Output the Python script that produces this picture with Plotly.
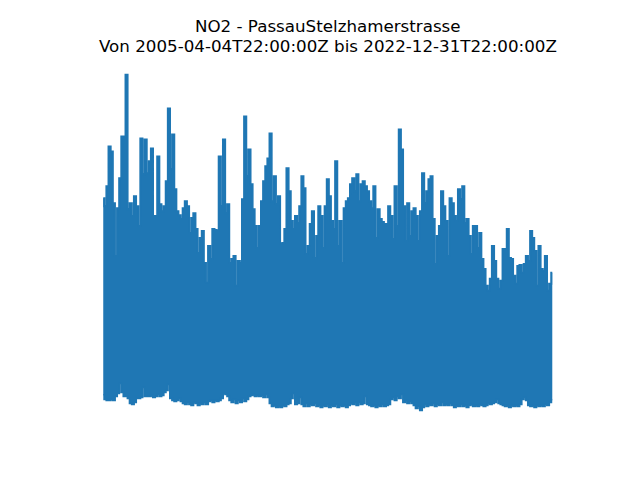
import pandas as pd
import plotly.graph_objects as go

station = "PassauStelzhamerstrasse"
pollutant = "NO2"
t_start = "2005-04-04T22:00:00Z"
t_end = "2022-12-31T22:00:00Z"

# monthly maximum of the hourly series (Apr 2005 .. Dec 2022)
monthly_max = [
    213, 205, 225, 265, 260, 208, 155, 203, 233, 275, 275, 337, 202, 208, 195, 215, 205, 185, 273, 237,
    272, 238, 250, 263, 195, 195, 255, 207, 200, 205, 230, 303, 242, 277, 222, 200, 196, 192, 203, 210,
    205, 178, 193, 198, 182, 158, 173, 180, 148, 128, 165, 152, 182, 181, 180, 255, 205, 272, 198, 207,
    148, 152, 155, 125, 150, 148, 212, 295, 235, 262, 227, 202, 185, 163, 185, 210, 230, 245, 253, 278,
    210, 235, 207, 215, 167, 168, 182, 243, 220, 190, 182, 195, 188, 205, 235, 223, 157, 165, 187, 200,
    153, 175, 205, 195, 163, 205, 232, 215, 190, 182, 250, 165, 190, 148, 203, 210, 213, 227, 233, 220,
    237, 210, 227, 230, 225, 220, 210, 203, 225, 173, 202, 192, 189, 187, 187, 205, 195, 172, 225, 185,
    282, 262, 205, 170, 208, 175, 200, 203, 195, 170, 200, 238, 208, 220, 232, 235, 192, 147, 175, 185,
    220, 205, 190, 155, 213, 208, 195, 190, 222, 212, 225, 188, 192, 175, 157, 185, 185, 163, 178, 152,
    142, 125, 120, 132, 165, 150, 132, 122, 130, 162, 162, 182, 153, 152, 135, 127, 145, 146, 138, 147,
    155, 150, 180, 173, 160, 125, 165, 142, 140, 155, 120, 127, 138,
]

# monthly minimum of the hourly series
monthly_min = [
    15, 11, 10, 10, 11, 10, 14, 17, 27, 18, 14, 14, 12, 7, 6, 8, 12, 12, 13, 23,
    14, 14, 14, 15, 13, 14, 16, 14, 15, 18, 20, 26, 12, 10, 9, 10, 12, 9, 7, 6,
    8, 6, 5, 8, 7, 5, 7, 6, 8, 6, 9, 10, 8, 10, 9, 10, 12, 17, 16, 14,
    10, 8, 11, 7, 10, 8, 12, 9, 11, 14, 15, 16, 14, 15, 14, 15, 13, 16, 13, 7,
    4, 5, 3, 4, 3, 5, 4, 6, 7, 12, 17, 6, 7, 13, 6, 4, 7, 4, 6, 5,
    7, 4, 5, 3, 5, 4, 6, 3, 5, 4, 6, 3, 5, 4, 5, 3, 5, 7, 6, 8,
    5, 8, 6, 7, 14, 6, 5, 4, 5, 3, 5, 4, 6, 4, 5, 6, 11, 13, 10, 14,
    12, 16, 8, 10, 7, 9, 7, 5, 2, 4, 0, 3, 6, 4, 6, 5, 7, 4, 6, 5,
    8, 5, 6, 5, 7, 5, 3, 5, 4, 6, 4, 5, 3, 5, 6, 4, 5, 4, 6, 5,
    4, 5, 7, 6, 7, 8, 11, 7, 6, 5, 4, 5, 3, 5, 4, 5, 4, 6, 11, 13,
    10, 5, 4, 5, 3, 5, 4, 5, 4, 6, 5, 8, 10,
]

months = pd.date_range("2005-04-01", periods=len(monthly_max), freq="MS") + pd.Timedelta(days=14)

color = "#1f77b4"
fig = go.Figure()
fig.add_trace(go.Scatter(x=months, y=monthly_min, mode="lines",
                         line=dict(color=color, width=2, shape="hvh"), hoverinfo="skip"))
fig.add_trace(go.Scatter(x=months, y=monthly_max, mode="lines", fill="tonexty",
                         fillcolor=color, line=dict(color=color, width=2, shape="hvh")))

t0 = pd.Timestamp(t_start).tz_localize(None)
t1 = pd.Timestamp(t_end).tz_localize(None)
pad_t = (t1 - t0) * 0.05
ymin, ymax = min(monthly_min), max(monthly_max)
pad_y = (ymax - ymin) * 0.05

fig.update_layout(
    width=640, height=480,
    margin=dict(l=80, r=64, t=57.6, b=52.8),
    paper_bgcolor="white", plot_bgcolor="white",
    showlegend=False,
    xaxis=dict(visible=False, range=[t0 - pad_t, t1 + pad_t]),
    yaxis=dict(visible=False, range=[ymin - pad_y, ymax + pad_y]),
    font=dict(family="DejaVu Sans", color="black"),
)
fig.add_annotation(text=f"{pollutant} - {station}", xref="paper", yref="paper",
                   x=0.5, y=1, xanchor="center", yanchor="bottom", yshift=19.5,
                   showarrow=False, font=dict(size=16.7, family="DejaVu Sans", color="black"))
fig.add_annotation(text=f"Von {t_start} bis {t_end}", xref="paper", yref="paper",
                   x=0.5, y=1, xanchor="center", yanchor="bottom", yshift=0,
                   showarrow=False, font=dict(size=16.7, family="DejaVu Sans", color="black"))

fig.write_html("out.html", config={"displayModeBar": False},
               post_script="document.body.style.margin='0';")
